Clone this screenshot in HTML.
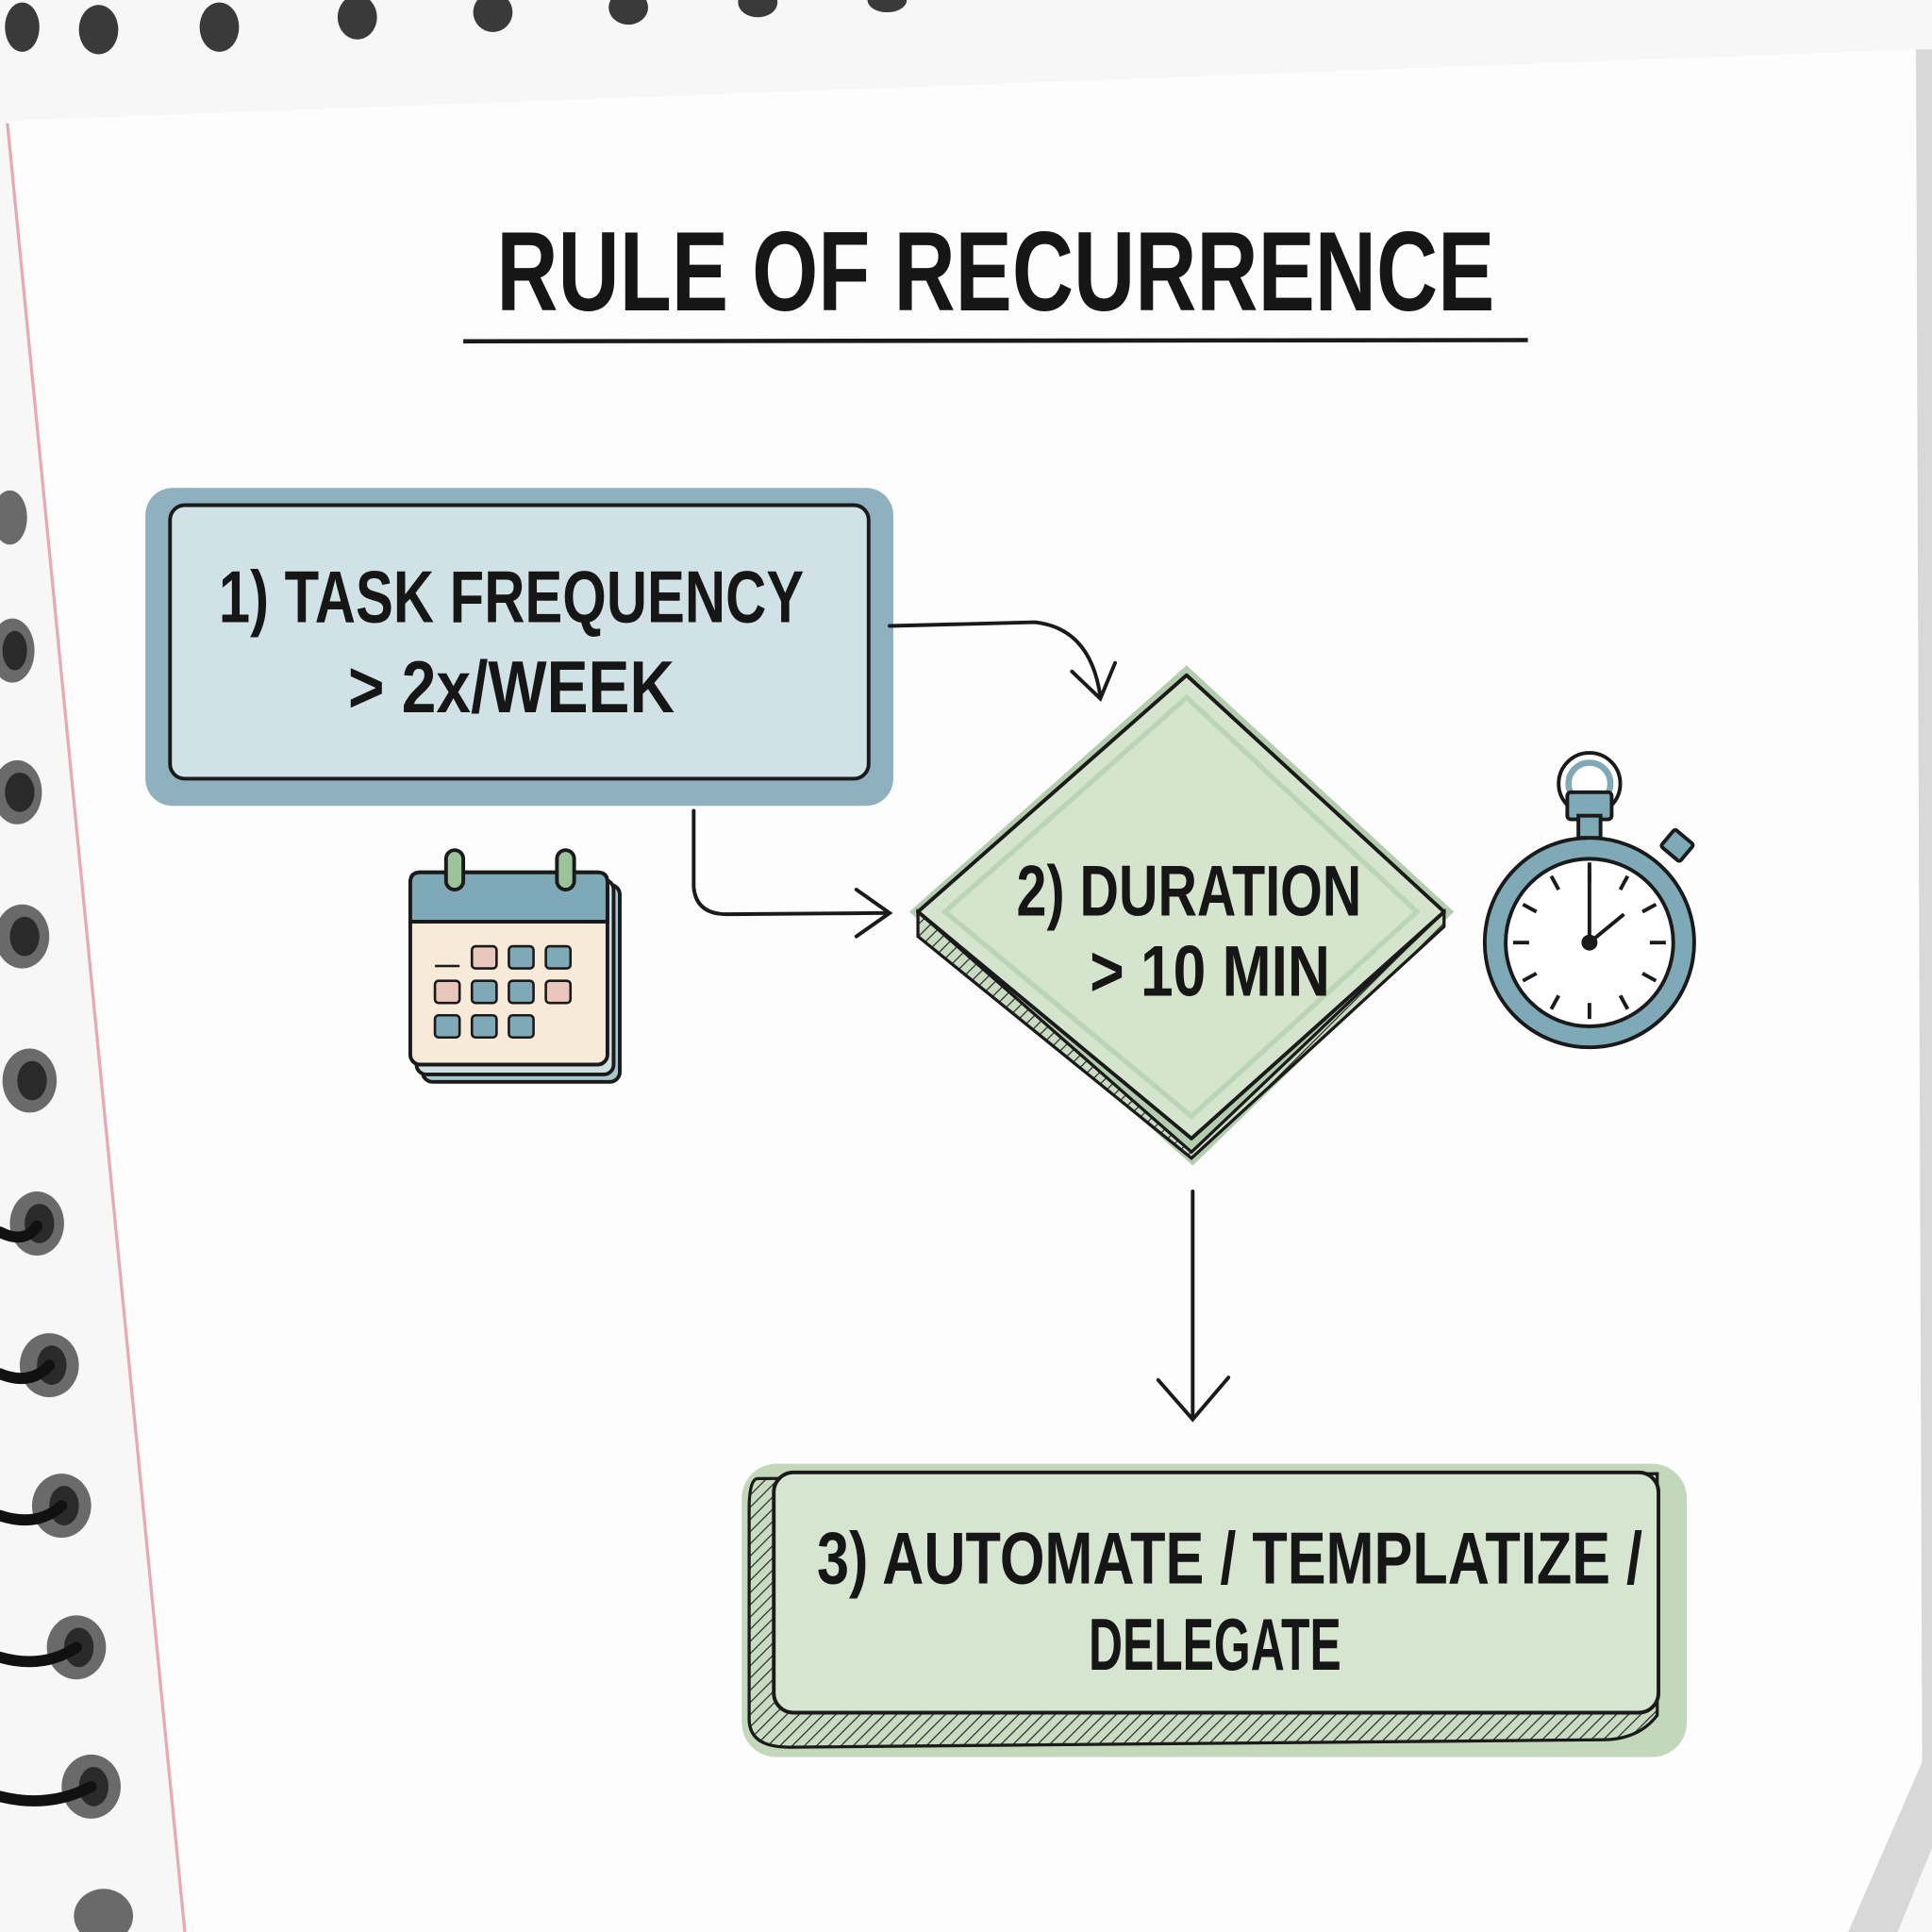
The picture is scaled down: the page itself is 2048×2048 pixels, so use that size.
<!DOCTYPE html>
<html><head><meta charset="utf-8"><style>
html,body{margin:0;padding:0;background:#fbfbfb;}
svg{display:block;}
text{font-family:"Liberation Sans Narrow","Liberation Sans",sans-serif;font-weight:bold;fill:#161616;}
</style></head><body>
<svg width="2048" height="2048" viewBox="0 0 1568 1568" xmlns="http://www.w3.org/2000/svg">
<defs>
<pattern id="hatch" width="7" height="7" patternUnits="userSpaceOnUse" patternTransform="rotate(45)">
<rect width="7" height="7" fill="#c9dcc2"/><line x1="0" y1="0" x2="0" y2="7" stroke="#333" stroke-width="2"/>
</pattern>
</defs>
<rect width="1568" height="1568" fill="#f7f7f7"/>
<!-- page -->
<polygon points="6,98 1558,40 1568,40 1568,1500 1540,1568 150,1568" fill="#fdfdfd"/>
<polygon points="1555,40 1568,40 1568,1500 1540,1568 1500,1568 1560,1430" fill="#d8d8d8"/>
<line x1="6" y1="100" x2="150" y2="1568" stroke="#e8a8b4" stroke-width="2.5"/>
<!-- top spiral holes -->
<g fill="#3a3a3a">
<ellipse cx="18" cy="22" rx="14" ry="20"/><ellipse cx="80" cy="24" rx="16" ry="20"/><ellipse cx="178" cy="22" rx="16" ry="20"/>
<ellipse cx="290" cy="14" rx="16" ry="18"/><ellipse cx="400" cy="10" rx="16" ry="16"/><ellipse cx="510" cy="6" rx="16" ry="14"/>
<ellipse cx="615" cy="2" rx="16" ry="12"/><ellipse cx="720" cy="0" rx="16" ry="10"/>
</g>
<!-- left spiral rings -->
<g fill="#6a6a6a">
<ellipse cx="8" cy="420" rx="14" ry="22"/><ellipse cx="10" cy="528" rx="18" ry="26"/><ellipse cx="14" cy="643" rx="20" ry="26"/>
<ellipse cx="18" cy="760" rx="22" ry="26"/><ellipse cx="24" cy="877" rx="22" ry="26"/><ellipse cx="30" cy="993" rx="22" ry="26"/>
<ellipse cx="40" cy="1108" rx="24" ry="26"/><ellipse cx="50" cy="1222" rx="24" ry="26"/><ellipse cx="62" cy="1337" rx="24" ry="26"/>
<ellipse cx="74" cy="1450" rx="24" ry="26"/><ellipse cx="84" cy="1555" rx="24" ry="22"/>
</g>
<g fill="#2a2a2a">
<ellipse cx="12" cy="528" rx="10" ry="16"/><ellipse cx="16" cy="643" rx="12" ry="16"/><ellipse cx="20" cy="760" rx="12" ry="16"/>
<ellipse cx="26" cy="877" rx="12" ry="16"/><ellipse cx="32" cy="993" rx="12" ry="16"/><ellipse cx="42" cy="1108" rx="12" ry="16"/>
<ellipse cx="52" cy="1222" rx="12" ry="16"/><ellipse cx="64" cy="1337" rx="12" ry="16"/><ellipse cx="76" cy="1450" rx="12" ry="16"/>
</g>
<g stroke="#111" stroke-width="9" fill="none" stroke-linecap="round">
<path d="M0,1000 Q20,1010 30,995"/><path d="M0,1115 Q25,1125 40,1108"/><path d="M0,1230 Q30,1240 50,1222"/>
<path d="M0,1345 Q35,1355 62,1337"/><path d="M0,1458 Q40,1468 74,1450"/>
</g>
<!-- title -->
<text x="808" y="252" text-anchor="middle" font-size="92" textLength="810" lengthAdjust="spacingAndGlyphs">RULE OF RECURRENCE</text>
<line x1="376" y1="277" x2="1240" y2="276" stroke="#1a1a1a" stroke-width="3.5"/>
<!-- box 1 -->
<rect x="118" y="396" width="607" height="258" rx="22" fill="#8eb0bf"/>
<rect x="138" y="410" width="567" height="222" rx="12" fill="#d0e2e5" stroke="#1a1a1a" stroke-width="3"/>
<text x="415" y="505" text-anchor="middle" font-size="60" textLength="475" lengthAdjust="spacingAndGlyphs">1) TASK FREQUENCY</text>
<text x="415" y="578" text-anchor="middle" font-size="60" textLength="265" lengthAdjust="spacingAndGlyphs">&gt; 2x/WEEK</text>
<!-- arrows -->
<g stroke="#1a1a1a" stroke-width="3" fill="none" stroke-linecap="round">
<path d="M722,508 L840,505 Q885,510 893,565"/>
<path d="M870,545 L893,567 L905,538"/>
<path d="M563,658 L563,720 Q565,742 590,742 L720,741"/>
<path d="M695,722 L722,741 L695,760"/>
<path d="M968,967 L968,1150"/>
<path d="M940,1120 L968,1152 L997,1118"/>
</g>
<!-- diamond -->
<polygon points="963,540 1180,740 968,946 738,740" fill="#b3cdae"/>
<polygon points="745,740 967,935 1172,740 1172,752 967,940 745,760" fill="url(#hatch)" stroke="#1a1a1a" stroke-width="2.5"/>
<polygon points="963,548 1172,740 967,924 745,740" fill="#d4e4cd" stroke="#1a1a1a" stroke-width="3" stroke-linejoin="round"/>
<polygon points="963,566 1150,740 967,906 767,740" fill="none" stroke="#bcd4b6" stroke-width="4"/>
<text x="965" y="743" text-anchor="middle" font-size="58" textLength="280" lengthAdjust="spacingAndGlyphs">2) DURATION</text>
<text x="982" y="808" text-anchor="middle" font-size="58" textLength="195" lengthAdjust="spacingAndGlyphs">&gt; 10 MIN</text>
<!-- stopwatch -->
<g stroke="#1a1a1a" stroke-width="3">
<circle cx="1290" cy="636" r="25" fill="#fff" stroke="#1a1a1a"/>
<circle cx="1290" cy="636" r="17" fill="none" stroke="#7fa9b6" stroke-width="5"/>
<rect x="1272" y="643" width="36" height="22" rx="3" fill="#7fa9b6"/>
<rect x="1281" y="662" width="18" height="18" fill="#7fa9b6"/>
<g transform="rotate(40 1358 690)"><rect x="1348" y="676" width="20" height="18" rx="2" fill="#7fa9b6"/></g>
<circle cx="1290" cy="765" r="85" fill="#7fa9b6"/>
<circle cx="1290" cy="765" r="68" fill="#fff"/>
<g stroke-width="3">
<line x1="1290" y1="703" x2="1290" y2="716"/><line x1="1290" y1="814" x2="1290" y2="827"/>
<line x1="1228" y1="765" x2="1241" y2="765"/><line x1="1339" y1="765" x2="1352" y2="765"/>
<line x1="1321" y1="711" x2="1315" y2="722"/><line x1="1344" y1="734" x2="1333" y2="740"/>
<line x1="1259" y1="711" x2="1265" y2="722"/><line x1="1236" y1="734" x2="1247" y2="740"/>
<line x1="1236" y1="796" x2="1247" y2="790"/><line x1="1259" y1="819" x2="1265" y2="808"/>
<line x1="1321" y1="819" x2="1315" y2="808"/><line x1="1344" y1="796" x2="1333" y2="790"/>
<line x1="1290" y1="765" x2="1290" y2="700"/><line x1="1290" y1="765" x2="1318" y2="742"/>
</g>
<circle cx="1290" cy="765" r="5" fill="#1a1a1a"/>
</g>
<!-- calendar -->
<g stroke="#1a1a1a" stroke-width="3">
<rect x="343" y="718" width="160" height="160" rx="8" fill="#a9c7cf"/>
<rect x="338" y="714" width="160" height="158" rx="8" fill="#cfe0e2"/>
<rect x="333" y="708" width="160" height="156" rx="8" fill="#f8ead8"/>
<path d="M333,748 L333,716 Q333,708 341,708 L485,708 Q493,708 493,716 L493,748 Z" fill="#7fa9b6"/>
<rect x="362" y="690" width="14" height="32" rx="7" fill="#9cc49b"/>
<rect x="452" y="690" width="14" height="32" rx="7" fill="#9cc49b"/>
<g stroke-width="2">
<rect x="383" y="768" width="20" height="18" rx="3" fill="#e9c7bd"/><rect x="413" y="768" width="20" height="18" rx="3" fill="#7fa9b6"/><rect x="443" y="768" width="20" height="18" rx="3" fill="#7fa9b6"/>
<rect x="353" y="796" width="20" height="18" rx="3" fill="#e9c7bd"/><rect x="383" y="796" width="20" height="18" rx="3" fill="#7fa9b6"/><rect x="413" y="796" width="20" height="18" rx="3" fill="#7fa9b6"/><rect x="443" y="796" width="20" height="18" rx="3" fill="#e9c7bd"/>
<rect x="353" y="824" width="20" height="18" rx="3" fill="#7fa9b6"/><rect x="383" y="824" width="20" height="18" rx="3" fill="#7fa9b6"/><rect x="413" y="824" width="20" height="18" rx="3" fill="#7fa9b6"/>
<line x1="353" y1="784" x2="373" y2="784"/>
</g>
</g>
<!-- box 3 -->
<rect x="602" y="1188" width="767" height="238" rx="28" fill="#c3d8bb"/>
<path d="M615,1200 L1345,1196 L1345,1392 Q1330,1412 1300,1412 L640,1418 Q608,1418 608,1395 L608,1225 Q608,1200 615,1200 Z" fill="url(#hatch)" stroke="#1a1a1a" stroke-width="2.5"/>
<rect x="628" y="1195" width="718" height="195" rx="16" fill="#d6e5cf" stroke="#1a1a1a" stroke-width="3"/>
<text x="998" y="1285" text-anchor="middle" font-size="60" textLength="670" lengthAdjust="spacingAndGlyphs">3) AUTOMATE / TEMPLATIZE /</text>
<text x="986" y="1355" text-anchor="middle" font-size="60" textLength="205" lengthAdjust="spacingAndGlyphs">DELEGATE</text>
</svg>
</body></html>
